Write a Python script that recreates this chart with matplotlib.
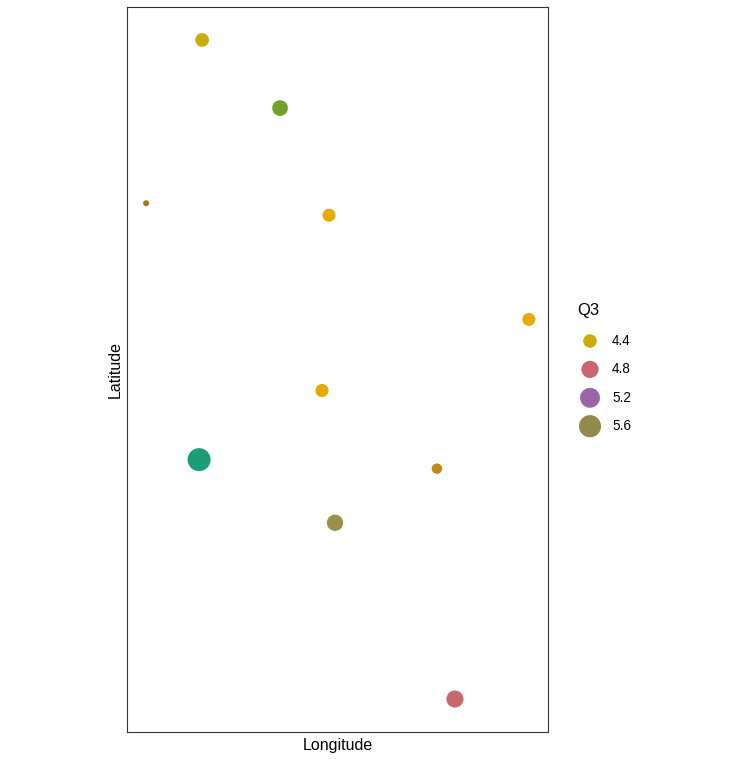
import numpy as np
import matplotlib
matplotlib.use("Agg")
import matplotlib.pyplot as plt

plt.rcParams['font.family'] = ['Liberation Sans', 'DejaVu Sans']

# ---- data ----
longitude = [-123.00, -122.44, -121.66, -121.17, -119.17, -121.24, -122.47, -120.09, -121.11, -119.91]
latitude = [47.37, 49.00, 48.32, 47.25, 46.21, 45.50, 44.81, 44.72, 44.18, 42.42]
q3 = [4.06, 4.41, 4.62, 4.35, 4.35, 4.36, 5.77, 4.18, 4.69, 4.79]
legend_breaks = [4.4, 4.8, 5.2, 5.6]
palette = ["#A6761D", "#E6AB02", "#66A61E", "#E7298A", "#7570B3", "#D95F02", "#1B9E77"]
palette_values = [4.06, 4.35, 4.60, 4.88, 5.31, 5.375, 5.77]

# ---- Lab interpolation (like scales::gradient_n_pal) ----
def hex2rgb(h):
    h = h.lstrip('#')
    return np.array([int(h[i:i+2], 16) / 255 for i in (0, 2, 4)])

M = np.array([[0.4124564, 0.3575761, 0.1804375],
              [0.2126729, 0.7151522, 0.0721750],
              [0.0193339, 0.1191920, 0.9503041]])
WP = np.array([0.95047, 1.0, 1.08883])

def rgb2lab(c):
    c = np.where(c <= 0.04045, c / 12.92, ((c + 0.055) / 1.055) ** 2.4)
    xyz = M @ c / WP
    f = np.where(xyz > (6/29) ** 3, np.cbrt(xyz), xyz / (3 * (6/29) ** 2) + 4/29)
    return np.array([116 * f[1] - 16, 500 * (f[0] - f[1]), 200 * (f[1] - f[2])])

def lab2rgb(lab):
    L, a, b = lab
    fy = (L + 16) / 116
    fx = fy + a / 500
    fz = fy - b / 200
    f = np.array([fx, fy, fz])
    xyz = np.where(f > 6/29, f ** 3, 3 * (6/29) ** 2 * (f - 4/29)) * WP
    c = np.linalg.inv(M) @ xyz
    c = np.clip(c, 0, 1)
    c = np.where(c <= 0.0031308, 12.92 * c, 1.055 * c ** (1/2.4) - 0.055)
    return np.clip(c, 0, 1)

labs = np.array([rgb2lab(hex2rgb(h)) for h in palette])
vmin, vmax = min(q3), max(q3)

def colour(v):
    lab = np.array([np.interp(v, palette_values, labs[:, k]) for k in range(3)])
    return lab2rgb(lab)

def diam_pt(v):
    t = (v - vmin) / (vmax - vmin)
    d_px = 6 + 17 * np.sqrt(max(t, 0))
    return d_px * 0.72

W, H = 747, 763
fig = plt.figure(figsize=(W / 100, H / 100), dpi=100)
ax = fig.add_axes([127 / W, 1 - 732 / H, (548 - 127) / W, (732 - 7) / H])

order = np.argsort(q3)
for i in order:
    ax.scatter(longitude[i], latitude[i], s=diam_pt(q3[i]) ** 2, color=colour(q3[i]),
               edgecolors='none', zorder=3)

xr = max(longitude) - min(longitude)
yr = max(latitude) - min(latitude)
ax.set_xlim(min(longitude) - 0.05 * xr, max(longitude) + 0.05 * xr)
ax.set_ylim(min(latitude) - 0.05 * yr, max(latitude) + 0.05 * yr)
ax.set_xticks([])
ax.set_yticks([])
for s in ax.spines.values():
    s.set_color('#333333')
    s.set_linewidth(0.8)
ax.set_xlabel('Longitude', fontsize=11.5, labelpad=4)
ax.set_ylabel('Latitude', fontsize=11.5, labelpad=3)

# ---- legend (pixel coordinates) ----
lax = fig.add_axes([0, 0, 1, 1], facecolor='none')
lax.set_xlim(0, W)
lax.set_ylim(H, 0)
lax.axis('off')
lax.text(577, 310, 'Q3', fontsize=12, va='center', ha='left')
for k, b in enumerate(legend_breaks):
    y = 341 + k * 28.4
    lax.scatter([590], [y], s=diam_pt(b) ** 2, color=colour(b), edgecolors='none')
    lax.text(612, y, f"{b:.1f}", fontsize=9.8, va='center', ha='left')

fig.savefig('out.png', dpi=100)
